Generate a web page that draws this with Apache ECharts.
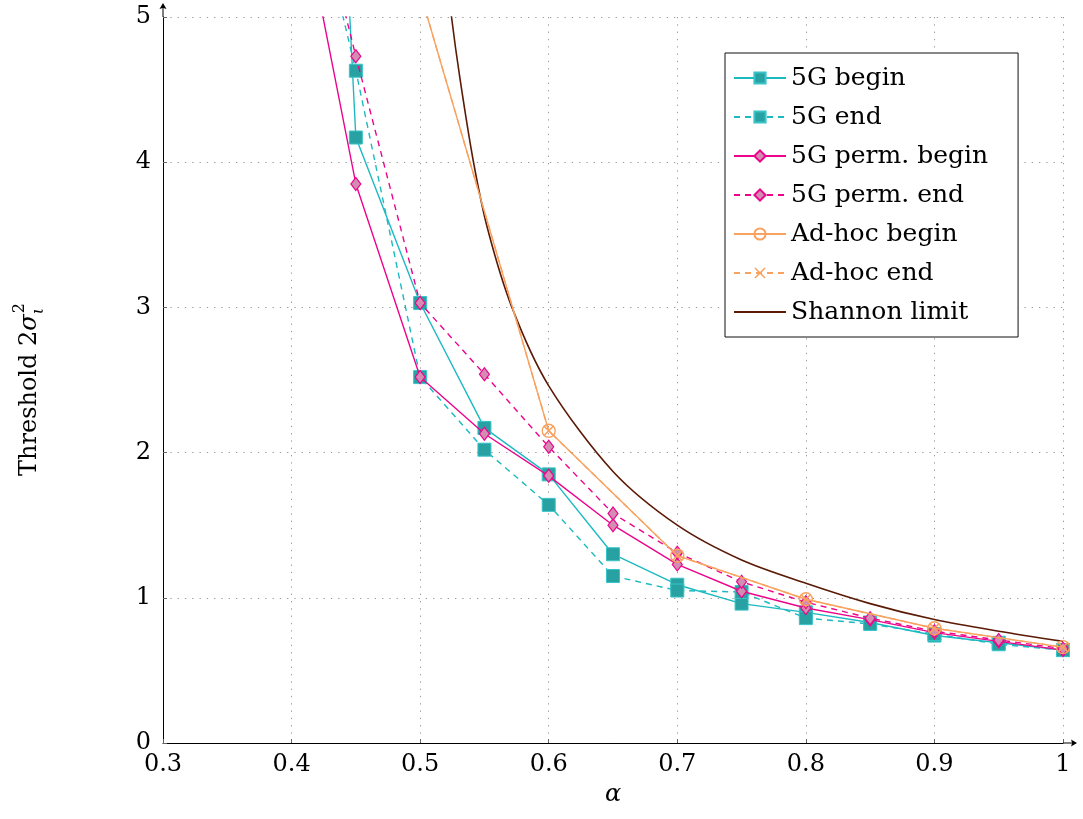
<!DOCTYPE html>
<html>
<head>
<meta charset="utf-8">
<script src="https://cdn.jsdelivr.net/npm/echarts@6.0.0/dist/echarts.min.js"></script>
<style>
  html, body { margin: 0; padding: 0; background: #fff; }
  #chart { width: 1083px; height: 819px; }
</style>
</head>
<body>
<div id="chart"></div>
<script>
// alpha grid of the 5G curves (0.4 is above the top of the plot)
const alphas = [0.4, 0.45, 0.5, 0.55, 0.6, 0.65, 0.7, 0.75, 0.8, 0.85, 0.9, 0.95, 1.0]
const fiveGBegin = [13.0, 4.17, 3.03, 2.17, 1.85, 1.30, 1.09, 0.96, 0.90, 0.83, 0.74, 0.69, 0.64]
const fiveGEnd   = [6.49, 4.63, 2.52, 2.02, 1.64, 1.15, 1.05, 1.04, 0.86, 0.82, 0.75, 0.68, 0.64]
const permBegin  = [6.1, 3.85, 2.52, 2.13, 1.84, 1.50, 1.23, 1.045, 0.93, 0.85, 0.76, 0.70, 0.64]
const permEnd    = [6.5, 4.73, 3.03, 2.54, 2.04, 1.58, 1.31, 1.11, 0.97, 0.86, 0.77, 0.71, 0.65]

const adhocAlphas = [0.5, 0.6, 0.7, 0.8, 0.9, 1.0]
const adhocBegin  = [5.17, 2.15, 1.29, 0.99, 0.79, 0.66]
const adhocEnd    = [5.17, 2.15, 1.29, 0.99, 0.79, 0.66]

const shannonAlphas = [0.518, 0.5244, 0.5309, 0.5413, 0.5525, 0.5714, 0.6, 0.65, 0.7, 0.75, 0.8, 0.85, 0.9, 0.95, 1.0]
const shannon       = [5.5, 5.0, 4.58, 4.01, 3.54, 3.0, 2.46, 1.87, 1.50, 1.26, 1.10, 0.96, 0.85, 0.77, 0.70]

const xTicks = [0.3, 0.4, 0.5, 0.6, 0.7, 0.8, 0.9, 1.0]

const FONT = '"DejaVu Serif", "Liberation Serif", serif'
const TEAL = '#1cb9c1', TEAL_FILL = '#27a1a2'
const PINK = '#ec058c', PINK_FILL = '#d38cb2'
const ORANGE = '#f9a15e'
const BROWN = '#5b1a06'

const pairs = (xs, ys) => xs.map((x, i) => [x, ys[i]])

// arrow head with a short stem, points "up" before the axis rotates it
const ARROW = 'path://M3.5,0 L7,6 L4,5 L4,14 L3,14 L3,5 L0,6 Z'
const CROSS = 'path://M1,0 L5,4 L9,0 L10,1 L6,5 L10,9 L9,10 L5,6 L1,10 L0,9 L4,5 L0,1 Z'

const line = (name, data, opt) => Object.assign({
  name, type: 'line', data, clip: true,
  lineStyle: { width: 1.4 },
  emphasis: { disabled: true },
}, opt)

const chart = echarts.init(document.getElementById('chart'), null, { renderer: 'canvas' })

chart.setOption({
  animation: false,
  backgroundColor: '#fff',
  grid: { left: 163, right: 20, top: 17, bottom: 76 },
  legend: {
    orient: 'vertical', left: 725, top: 53,
    padding: [10, 30, 10, 8], itemGap: 9,
    itemWidth: 52, itemHeight: 14,
    borderColor: '#111', borderWidth: 1,
    backgroundColor: '#fff',
    textStyle: { fontFamily: FONT, fontSize: 25, color: '#000', lineHeight: 30 },
    data: ['5G begin', '5G end', '5G perm. begin', '5G perm. end', 'Ad-hoc begin', 'Ad-hoc end',
      { name: 'Shannon limit', itemStyle: { opacity: 0 } }],
  },
  xAxis: {
    type: 'value', min: 0.3, max: 1, interval: 0.1,
    name: 'α', nameLocation: 'middle', nameGap: 40,
    nameTextStyle: { fontFamily: FONT, fontSize: 24, fontStyle: 'italic', color: '#000' },
    axisLine: { show: true, onZero: false, lineStyle: { color: '#000', width: 1 },
      symbol: ['none', ARROW], symbolSize: [7, 14], symbolOffset: [0, 7] },
    axisTick: { show: true, inside: true, length: 4, lineStyle: { color: '#666' } },
    axisLabel: { fontFamily: FONT, fontSize: 24, color: '#000', margin: 10,
      formatter: v => xTicks.includes(+v.toFixed(2)) ? (v === 1 ? '1' : v.toFixed(1)) : '' },
    splitLine: { show: true, lineStyle: { color: '#999', type: [1.3, 6], width: 1 } },
  },
  yAxis: {
    type: 'value', min: 0, max: 5, interval: 1,
    axisLine: { show: true, onZero: false, lineStyle: { color: '#000', width: 1 },
      symbol: ['none', ARROW], symbolSize: [7, 14], symbolOffset: [0, 7] },
    axisTick: { show: true, inside: true, length: 4, lineStyle: { color: '#666' } },
    axisLabel: { fontFamily: FONT, fontSize: 24, color: '#000', margin: 12 },
    splitLine: { show: true, lineStyle: { color: '#999', type: [1.3, 6], width: 1 } },
  },
  series: [
    line('Shannon limit', pairs(shannonAlphas, shannon), {
      smooth: 0.3, showSymbol: false, symbol: 'none', z: 1,
      lineStyle: { width: 1.6, color: BROWN }, itemStyle: { color: BROWN },
    }),
    line('5G begin', pairs(alphas, fiveGBegin), {
      symbol: 'rect', symbolSize: 13, z: 2,
      lineStyle: { width: 1.4, color: TEAL },
      itemStyle: { color: TEAL_FILL, borderColor: '#38c4c9', borderWidth: 1 },
    }),
    line('5G end', pairs(alphas, fiveGEnd), {
      symbol: 'rect', symbolSize: 13, z: 2,
      lineStyle: { width: 1.4, color: TEAL, type: [6, 5] },
      itemStyle: { color: TEAL_FILL, borderColor: '#38c4c9', borderWidth: 1 },
    }),
    line('5G perm. begin', pairs(alphas, permBegin), {
      symbol: 'diamond', symbolSize: [10, 13], z: 3,
      lineStyle: { width: 1.4, color: PINK },
      itemStyle: { color: PINK_FILL, borderColor: PINK, borderWidth: 1.2 },
    }),
    line('5G perm. end', pairs(alphas, permEnd), {
      symbol: 'diamond', symbolSize: [10, 13], z: 3,
      lineStyle: { width: 1.4, color: PINK, type: [6, 5] },
      itemStyle: { color: PINK_FILL, borderColor: PINK, borderWidth: 1.2 },
    }),
    line('Ad-hoc begin', pairs(adhocAlphas, adhocBegin), {
      symbol: 'circle', symbolSize: 13, z: 4,
      lineStyle: { width: 1.4, color: ORANGE },
      itemStyle: { color: 'rgba(255,255,255,0)', borderColor: ORANGE, borderWidth: 1.4 },
    }),
    line('Ad-hoc end', pairs(adhocAlphas, adhocEnd), {
      symbol: CROSS, symbolSize: 11, z: 4,
      lineStyle: { width: 1.4, color: ORANGE, type: [6, 5] },
      itemStyle: { color: ORANGE },
    }),
  ],
})

// y axis title: "Threshold 2σ" with stacked ² and ι, rotated to read upward
const ctx = document.createElement('canvas').getContext('2d')
const measure = (txt, font) => { ctx.font = font; return ctx.measureText(txt).width }
const mainFont = '24px ' + FONT, mathFont = 'italic 24px ' + FONT, smallFont = '16px ' + FONT
const w1 = measure('Threshold 2', mainFont)
const w2 = measure('σ', mathFont)
chart.setOption({
  graphic: [{
    type: 'group', x: 30, y: 476, rotation: Math.PI / 2,
    children: [
      { type: 'text', x: 0, y: 0, style: { text: 'Threshold 2', font: mainFont, fill: '#000', textAlign: 'left', textVerticalAlign: 'middle' } },
      { type: 'text', x: w1, y: 0, style: { text: 'σ', font: mathFont, fill: '#000', textAlign: 'left', textVerticalAlign: 'middle' } },
      { type: 'text', x: w1 + w2 + 1, y: -10, style: { text: '2', font: smallFont, fill: '#000', textAlign: 'left', textVerticalAlign: 'middle' } },
      { type: 'text', x: w1 + w2, y: 9, style: { text: 'ι', font: 'italic ' + smallFont, fill: '#000', textAlign: 'left', textVerticalAlign: 'middle' } },
    ],
  }],
})
</script>
</body>
</html>
